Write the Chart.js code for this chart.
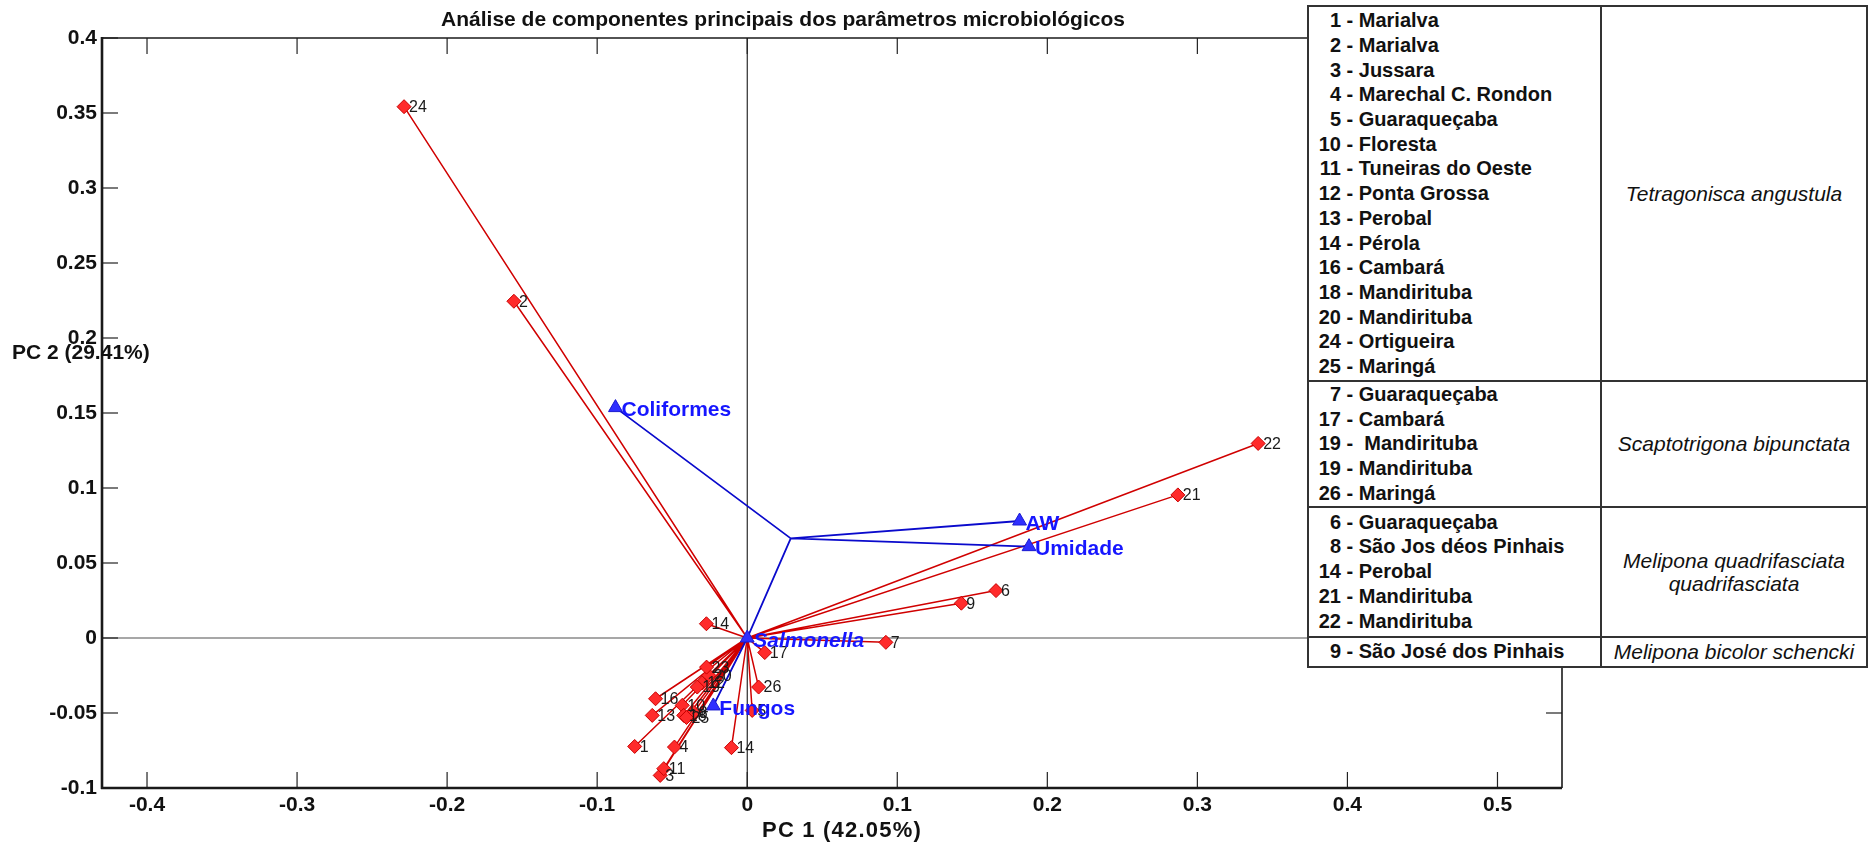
<!DOCTYPE html>
<html>
<head>
<meta charset="utf-8">
<title>PCA parâmetros microbiológicos</title>
<script src="https://cdn.jsdelivr.net/npm/chart.js@4"></script>
<style>
  body { margin: 0; background: #fff; }
  #box { position: relative; width: 1872px; height: 844px; }
  #legend {
    position: absolute; left: 1307px; top: 5px; width: 561px;
    border-collapse: collapse; background: #fff; color: #111;
    font-family: "Liberation Sans", Arial, sans-serif;
  }
  #legend td { border: 2px solid #333; padding: 0; vertical-align: middle; }
  #legend td.sites { width: 282px; padding-left: 9px; font-weight: bold; font-size: 20px; line-height: 24.7px; white-space: pre; }
  #legend td.sp { font-style: italic; font-size: 21px; line-height: 23px; text-align: center; }
  #legend .n { display: inline-block; width: 23px; text-align: right; }
</style>
</head>
<body>
<div id="box">
  <canvas id="pca" width="1872" height="844"></canvas>
  <table id="legend"></table>
</div>
<script>
// samples (scores)
const sampleIds = ['1','2','3','4','5','6','7','8','9','10','11','12','13',
                   '14','14','16','17','18','19','20','21','22','23','24','25','26'];
const samplePc1 = [-0.075, -0.1555, -0.058, -0.0485, 0.0033, 0.1658, 0.0924, -0.0356, 0.1427, -0.0433, -0.0556, -0.030, -0.0633,
                   -0.0272, -0.0105, -0.0611, 0.0117, -0.0423, -0.0333, -0.0256, 0.287, 0.3405, -0.0271, -0.2287, -0.0405, 0.0076];
const samplePc2 = [-0.0723, 0.2245, -0.0916, -0.0727, -0.0483, 0.0316, -0.0029, -0.0496, 0.0232, -0.0449, -0.0871, -0.030, -0.0516,
                   0.0095, -0.0731, -0.0405, -0.0097, -0.0516, -0.0327, -0.0249, 0.0954, 0.1297, -0.0194, 0.3542, -0.053, -0.0327];

// variables (loadings)
const varNames = ['Coliformes', 'AW', 'Umidade', 'Salmonella', 'Fungos'];
const varPc1 = [-0.0878, 0.1815, 0.1878, 0.0, -0.0226];
const varPc2 = [0.1536, 0.078, 0.0609, 0.0, -0.0453];
const hubPc1 = 0.029, hubPc2 = 0.0664;

const xTicks = [-0.4, -0.3, -0.2, -0.1, 0, 0.1, 0.2, 0.3, 0.4, 0.5];
const yTicks = [-0.1, -0.05, 0, 0.05, 0.1, 0.15, 0.2, 0.25, 0.3, 0.35, 0.4];

// legend table
const groups = [
  ['Tetragonisca angustula', [[1,'Marialva'],[2,'Marialva'],[3,'Jussara'],[4,'Marechal C. Rondon'],[5,'Guaraqueçaba'],
    [10,'Floresta'],[11,'Tuneiras do Oeste'],[12,'Ponta Grossa'],[13,'Perobal'],[14,'Pérola'],[16,'Cambará'],
    [18,'Mandirituba'],[20,'Mandirituba'],[24,'Ortigueira'],[25,'Maringá']]],
  ['Scaptotrigona bipunctata', [[7,'Guaraqueçaba'],[17,'Cambará'],[19,' Mandirituba'],[19,'Mandirituba'],[26,'Maringá']]],
  ['Melipona quadrifasciata<br>quadrifasciata', [[6,'Guaraqueçaba'],[8,'São Jos déos Pinhais'],[14,'Perobal'],[21,'Mandirituba'],[22,'Mandirituba']]],
  ['Melipona bicolor schencki', [[9,'São José dos Pinhais']]]
];
const rowHeights = [375, 124, 130, 30];

let html = '';
groups.forEach((g, i) => {
  const lines = g[1].map(s => '<span class="n">' + s[0] + '</span> - ' + s[1]).join('\n');
  html += '<tr style="height:' + rowHeights[i] + 'px"><td class="sites">' + lines + '</td><td class="sp">' + g[0] + '</td></tr>';
});
document.getElementById('legend').innerHTML = html;

Chart.defaults.font.family = '"Liberation Sans", Arial, sans-serif';
Chart.defaults.color = '#111';

const spokes = [];
samplePc1.forEach((v, i) => {
  spokes.push({x: 0, y: 0}, {x: v, y: samplePc2[i]}, {x: null, y: null});
});
const tree = [];
varNames.forEach((n, i) => {
  if (n === 'Salmonella' || n === 'Fungos') return;
  tree.push({x: varPc1[i], y: varPc2[i]}, {x: hubPc1, y: hubPc2}, {x: null, y: null});
});
tree.push({x: hubPc1, y: hubPc2}, {x: varPc1[3], y: varPc2[3]}, {x: varPc1[4], y: varPc2[4]});

const fmt = v => String(Math.round(v * 100) / 100);

function seg(ctx, x1, y1, x2, y2) {
  ctx.beginPath(); ctx.moveTo(x1, y1); ctx.lineTo(x2, y2); ctx.stroke();
}

const decor = {
  id: 'decor',
  beforeDatasetsDraw(chart) {
    const {ctx, chartArea: a, scales: {x, y}} = chart;
    ctx.save();
    ctx.strokeStyle = '#8a8a8a'; ctx.lineWidth = 1.5;
    const y0 = y.getPixelForValue(0);
    seg(ctx, a.left, y0, a.right, y0);
    ctx.strokeStyle = '#000'; ctx.lineWidth = 1;
    const x0 = x.getPixelForValue(0);
    seg(ctx, x0, a.top, x0, a.bottom);
    ctx.strokeStyle = '#222'; ctx.lineWidth = 1.2;
    xTicks.forEach(v => {
      const px = x.getPixelForValue(v);
      seg(ctx, px, a.top, px, a.top + 16);
      seg(ctx, px, a.bottom, px, a.bottom - 16);
    });
    yTicks.forEach(v => {
      const py = y.getPixelForValue(v);
      seg(ctx, a.left, py, a.left + 16, py);
      seg(ctx, a.right, py, a.right - 16, py);
    });
    ctx.restore();
  },
  afterDatasetsDraw(chart) {
    const {ctx, chartArea: a, scales: {x, y}} = chart;
    ctx.save();
    // frame
    ctx.strokeStyle = '#1a1a1a';
    ctx.lineWidth = 1.6;
    seg(ctx, a.left, a.top, a.right, a.top);
    seg(ctx, a.right, a.top, a.right, a.bottom);
    ctx.lineWidth = 2.6;
    seg(ctx, a.left, a.top - 1, a.left, a.bottom + 1);
    seg(ctx, a.left - 1, a.bottom, a.right, a.bottom);
    // sample numbers
    ctx.font = '16px "Liberation Sans", Arial, sans-serif';
    ctx.fillStyle = '#1a1a1a';
    ctx.textBaseline = 'middle';
    ctx.textAlign = 'left';
    sampleIds.forEach((id, i) => {
      ctx.fillText(id, x.getPixelForValue(samplePc1[i]) + 5, y.getPixelForValue(samplePc2[i]) + 1);
    });
    // variable names
    ctx.fillStyle = '#1616ff';
    varNames.forEach((n, i) => {
      ctx.font = (n === 'Salmonella' ? 'italic ' : '') + 'bold 21px "Liberation Sans", Arial, sans-serif';
      ctx.fillText(n, x.getPixelForValue(varPc1[i]) + 6, y.getPixelForValue(varPc2[i]) + 3);
    });
    // titles
    ctx.fillStyle = '#111';
    ctx.font = 'bold 21px "Liberation Sans", Arial, sans-serif';
    ctx.textAlign = 'center';
    ctx.fillText('Análise de componentes principais dos parâmetros microbiológicos', a.left + 681, 20);
    ctx.font = 'bold 22px "Liberation Sans", Arial, sans-serif';
    ctx.letterSpacing = '1.2px';
    ctx.fillText('PC 1 (42.05%)', (a.left + a.right) / 2 + 10, a.bottom + 43);
    ctx.letterSpacing = '0px';
    ctx.textAlign = 'left';
    ctx.font = 'bold 21px "Liberation Sans", Arial, sans-serif';
    ctx.fillText('PC 2 (29.41%)', 12, y.getPixelForValue(0.19));
    ctx.restore();
  }
};

new Chart('pca', {
  type: 'scatter',
  data: {
    datasets: [{
      data: varPc1.map((v, i) => ({x: v, y: varPc2[i]})),
      pointStyle: 'triangle',
      pointRadius: 8,
      backgroundColor: '#2f2fff',
      borderColor: '#1a1ad0',
      borderWidth: 1,
      order: 0
    }, {
      data: samplePc1.map((v, i) => ({x: v, y: samplePc2[i]})),
      pointStyle: 'rectRot',
      pointRadius: 7,
      backgroundColor: '#ff2b2b',
      borderColor: '#c80000',
      borderWidth: 1,
      order: 1
    }, {
      data: tree,
      showLine: true,
      spanGaps: false,
      pointRadius: 0,
      borderColor: '#0a0acc',
      borderWidth: 1.8,
      order: 2
    }, {
      data: spokes,
      showLine: true,
      spanGaps: false,
      pointRadius: 0,
      borderColor: '#d00000',
      borderWidth: 1.5,
      order: 3
    }]
  },
  options: {
    responsive: false,
    animation: false,
    events: [],
    layout: { padding: { top: 38, right: 310, left: 0, bottom: 0 } },
    plugins: { legend: { display: false }, tooltip: { enabled: false } },
    scales: {
      x: {
        type: 'linear', min: -0.43, max: 0.543,
        grid: { display: false, drawTicks: false },
        border: { display: false },
        afterBuildTicks: s => { s.ticks = xTicks.map(v => ({value: v})); },
        afterFit: s => { s.height = 56; },
        ticks: { font: { size: 21, weight: 'bold' }, color: '#111', padding: 5, maxRotation: 0, autoSkip: false, callback: v => fmt(v) }
      },
      y: {
        type: 'linear', min: -0.1, max: 0.4,
        grid: { display: false, drawTicks: false },
        border: { display: false },
        afterBuildTicks: s => { s.ticks = yTicks.map(v => ({value: v})); },
        afterFit: s => { s.width = 102; },
        ticks: { font: { size: 21, weight: 'bold' }, color: '#111', padding: 5, autoSkip: false, callback: v => fmt(v) }
      }
    }
  },
  plugins: [decor]
});
</script>
</body>
</html>
